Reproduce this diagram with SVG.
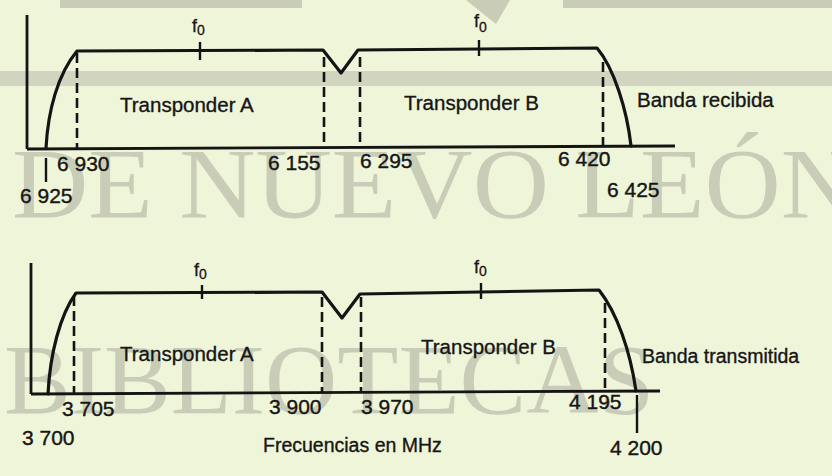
<svg xmlns="http://www.w3.org/2000/svg" width="832" height="476" viewBox="0 0 832 476">
<style>
.wm{font-family:"Liberation Serif","Times New Roman",serif;font-size:100px;fill:#c9cdb7}
.band{fill:#c9ccb6}
.ln{fill:none;stroke:#141414;stroke-width:3.2;stroke-linecap:round;stroke-linejoin:round}
.ax{fill:none;stroke:#141414;stroke-width:2.8}
.ds{fill:none;stroke:#141414;stroke-width:2.6;stroke-dasharray:10 5}
.tk{fill:none;stroke:#141414;stroke-width:2.4}
.lb{font-family:"Liberation Sans",Arial,sans-serif;font-size:20.5px;fill:#161616;stroke:#161616;stroke-width:0.35}
.nm{font-family:"Liberation Sans",Arial,sans-serif;font-size:21px;fill:#161616;stroke:#161616;stroke-width:0.4}
.f{font-family:"Liberation Sans",Arial,sans-serif;font-size:18px;fill:#161616;stroke:#161616;stroke-width:0.3}
.sub{font-size:14px}
</style>
<rect width="832" height="476" fill="#eff5d9"/>
<g id="watermark">
<rect class="band" x="60" y="0" width="242" height="8"/>
<rect class="band" x="563" y="0" width="269" height="8"/>
<polygon class="band" points="466,0 510,0 496,24"/>
<rect class="band" x="0" y="71" width="832" height="15" opacity="0.8"/>
<text class="wm" x="12" y="217" textLength="845" lengthAdjust="spacingAndGlyphs">DE NUEVO LEÓN</text>
<text class="wm" x="4" y="413" textLength="650" lengthAdjust="spacingAndGlyphs">BIBLIOTECAS</text>
</g>
<g id="connectors">
<!-- top plot -->
<line class="ax" x1="27" y1="15" x2="27" y2="149"/>
<line class="ax" x1="27" y1="149" x2="675" y2="146"/>
<path class="ln" d="M46,148 C48,110 58,74 77,51 L323,50 L341,73 L358,50 L597,48 C614,68 627,110 631,146"/>
<line class="ds" x1="77" y1="53" x2="77" y2="148"/>
<line class="ds" x1="324" y1="57" x2="324" y2="148"/>
<line class="ds" x1="360" y1="57" x2="360" y2="147"/>
<line class="ds" x1="603" y1="62" x2="603" y2="146"/>
<line class="tk" x1="200" y1="42" x2="200" y2="60"/>
<line class="tk" x1="479" y1="40" x2="479" y2="56"/>
<line class="tk" x1="46" y1="158" x2="46" y2="182"/>
<!-- bottom plot -->
<line class="ax" x1="31" y1="263" x2="31" y2="394"/>
<line class="ax" x1="31" y1="394" x2="660" y2="391"/>
<path class="ln" d="M48,394 C50,354 60,315 76,293 L322,292 L342,318 L360,294 L599,290 C617,313 630,350 636,391"/>
<line class="ds" x1="74" y1="296" x2="74" y2="393"/>
<line class="ds" x1="322" y1="297" x2="322" y2="393"/>
<line class="ds" x1="361" y1="297" x2="361" y2="392"/>
<line class="ds" x1="605" y1="303" x2="605" y2="391"/>
<line class="tk" x1="202" y1="285" x2="202" y2="299"/>
<line class="tk" x1="481" y1="283" x2="481" y2="299"/>
<line class="tk" x1="637" y1="395" x2="637" y2="433"/>
</g>
<g id="top-plot">
<text class="f" x="192" y="32">f<tspan class="sub" dy="3">0</tspan></text>
<text class="f" x="474" y="27">f<tspan class="sub" dy="5">0</tspan></text>
<text class="lb" x="120" y="112">Transponder A</text>
<text class="lb" x="404" y="110">Transponder B</text>
<text class="lb" x="637" y="107">Banda recibida</text>
<text class="nm" x="57" y="171">6 930</text>
<text class="nm" x="268" y="170">6 155</text>
<text class="nm" x="360" y="168">6 295</text>
<text class="nm" x="558" y="166">6 420</text>
<text class="nm" x="20" y="203">6 925</text>
<text class="nm" x="607" y="197">6 425</text>
</g>
<g id="bottom-plot">
<text class="f" x="194" y="276">f<tspan class="sub" dy="3">0</tspan></text>
<text class="f" x="474" y="273">f<tspan class="sub" dy="3">0</tspan></text>
<text class="lb" x="120" y="361">Transponder A</text>
<text class="lb" x="421" y="354">Transponder B</text>
<text class="lb" x="642" y="363" style="font-size:19.5px">Banda transmitida</text>
<text class="nm" x="62" y="416">3 705</text>
<text class="nm" x="269" y="414">3 900</text>
<text class="nm" x="361" y="414">3 970</text>
<text class="nm" x="569" y="409">4 195</text>
<text class="nm" x="22" y="445">3 700</text>
<text class="nm" x="610" y="455">4 200</text>
<text class="lb" x="263" y="452" style="font-size:19.5px">Frecuencias en MHz</text>
</g>
</svg>
